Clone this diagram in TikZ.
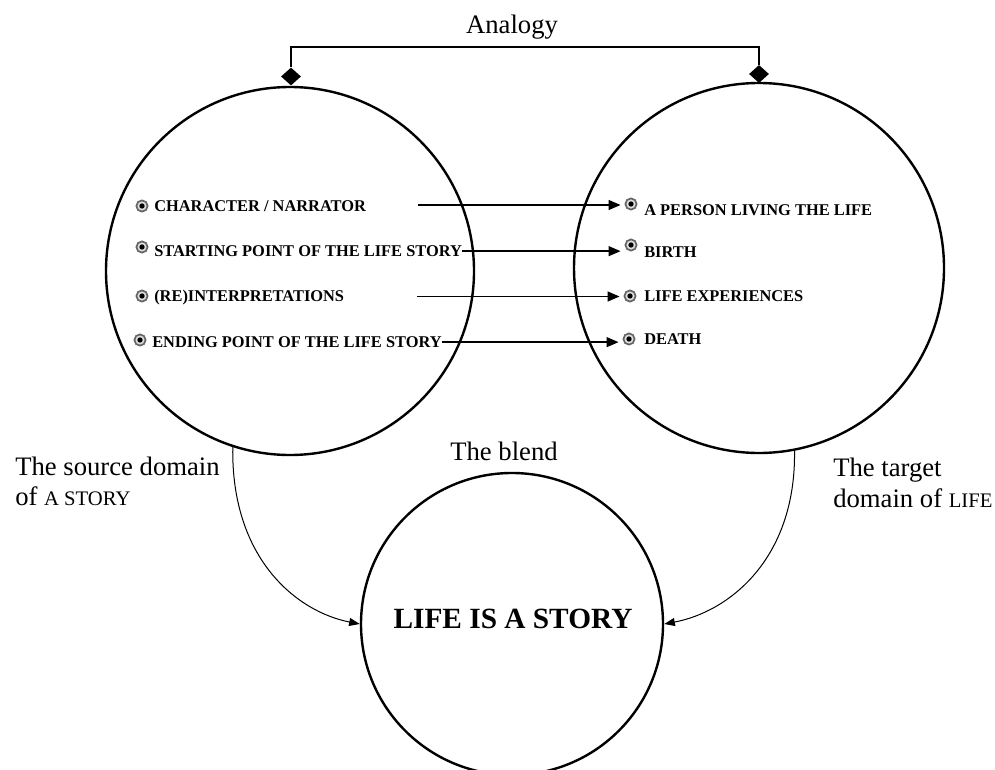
\documentclass[tikz,border=0pt]{standalone}
\usepackage{fontspec}
\setmainfont{Liberation Serif}
\usetikzlibrary{shapes.geometric, arrows.meta}

\begin{document}
\begin{tikzpicture}[x=0.75pt, y=-0.75pt,
  domcirc/.style={draw, circle, line width=1.8pt, inner sep=0},
  dia/.style={diamond, fill=black, inner sep=0, minimum width=15pt, minimum height=13.5pt},
  item/.style={font=\bfseries\fontsize{12.3}{14}\selectfont, inner sep=0, anchor=base west},
  lbl/.style={font=\fontsize{20}{24}\selectfont, inner sep=0},
  bul/.style={circle, draw=black!60, fill=black!12, line width=1.3pt, minimum size=8.4pt, inner sep=0,
    path picture={\fill[black] (path picture bounding box.center) circle (2pt);}},
  maparrow/.style={line width=1pt, shorten >=3pt, -{Triangle[length=9pt, width=7.5pt]}},
  blendarrow/.style={line width=0.75pt, -{Triangle[length=8pt, width=6pt]}},
]
\useasboundingbox (0,0) rectangle (995,770);

% domains
\node[domcirc, minimum size=276pt] (lc) at (290,271) {};
\node[domcirc, minimum size=277.5pt] (rc) at (759,268) {};
\node[domcirc, minimum size=226.5pt] (bc) at (512,624) {};

% analogy bracket
\node[dia] (ld) at (291,76.5) {};
\node[dia] (rd) at (759,74) {};
\coordinate (brk) at (525,47);
\draw[line width=0.8pt] (ld.north) |- (brk) -| (rd.north);
\node[lbl, anchor=base] (analogy) at (512,34) {Analogy};

% left items
\node[bul] (lb1) at (142,206) {};
\node[bul] (lb2) at (142,247) {};
\node[bul] (lb3) at (142,296) {};
\node[bul] (lb4) at (140,340) {};
\node[item] (lt1) at (154,211.5) {CHARACTER / NARRATOR};
\node[item] (lt2) at (154,256.5) {STARTING POINT OF THE LIFE STORY};
\node[item] (lt3) at (154,301.5) {(RE)INTERPRETATIONS};
\node[item] (lt4) at (152,347.5) {ENDING POINT OF THE LIFE STORY};

% right items
\node[bul] (rb1) at (631,204) {};
\node[bul] (rb2) at (631,245) {};
\node[bul] (rb3) at (630,296) {};
\node[bul] (rb4) at (629,339) {};
\node[item] (rt1) at (644,215) {A PERSON LIVING THE LIFE};
\node[item] (rt2) at (644,257.5) {BIRTH};
\node[item] (rt3) at (644,301.5) {LIFE EXPERIENCES};
\node[item] (rt4) at (644,344.5) {DEATH};

% mapping arrows
\coordinate (s1) at (418,205);
\coordinate (s3) at (417,296.5);
\draw[maparrow] (s1) -- (s1 -| rb1.west);
\draw[maparrow] (lt2.east) -- (lt2.east -| rb2.west);
\draw[maparrow] (s3) -- (s3 -| rb3.west);
\draw[maparrow] (lt4.east) -- (lt4.east -| rb4.west);

% labels
\node[lbl, anchor=base west] (src1) at (15,475) {The source domain};
\node[lbl, anchor=base west] (src2) at (15,505) {of {\fontsize{15.5}{18}\selectfont A STORY}};
\node[lbl, anchor=base west] (tgt1) at (833,476) {The target};
\node[lbl, anchor=base west] (tgt2) at (833,507) {domain of {\fontsize{15.5}{18}\selectfont LIFE}};
\node[lbl, anchor=base] (blend) at (504,460) {The blend};
\node[font=\bfseries\fontsize{22}{26}\selectfont, inner sep=0, anchor=base] (blendtxt) at (513,628) {LIFE IS A STORY};

% blending arrows
\draw[blendarrow] (lc.252) .. controls (231,560) and (298,612) .. (bc.west);
\draw[blendarrow] (rc.281) .. controls (796,560) and (728,612) .. (bc.east);
\end{tikzpicture}
\end{document}
